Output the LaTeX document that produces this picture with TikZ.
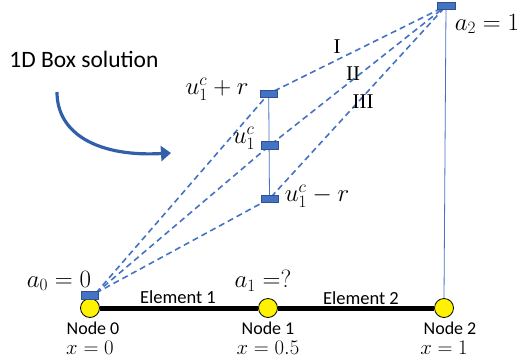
\documentclass[tikz,border=0pt]{standalone}
\usepackage{fontspec}
\setmainfont{Carlito}
\newfontfamily\serifroman{Liberation Serif}
\usetikzlibrary{arrows.meta}
\definecolor{offblue}{HTML}{4472C4}
\definecolor{darkblue}{HTML}{2F528F}
\definecolor{arrowblue}{HTML}{3160AA}
\begin{document}
\begin{tikzpicture}[x=1pt,y=-1pt,
  valbox/.style={draw=darkblue,fill=offblue,line width=0.6pt,minimum width=17pt,minimum height=7.5pt,inner sep=0pt},
  fenode/.style={circle,draw=black,fill=yellow,line width=0.8pt,minimum size=19pt,inner sep=0pt},
  dashline/.style={offblue,line width=1.6pt,dash pattern=on 6pt off 4pt},
  thinline/.style={offblue,line width=0.8pt},
  biglabel/.style={font=\fontsize{23}{27}\selectfont,inner sep=0pt},
  smalllabel/.style={font=\fontsize{18}{21}\selectfont,inner sep=0pt},
  xlabel/.style={font=\fontsize{21}{24}\selectfont,inner sep=0pt},
  romlabel/.style={font=\serifroman\fontsize{21}{24}\selectfont,inner sep=0pt}]
\useasboundingbox (0,0) rectangle (521,362);
% nodes
\node[fenode] (n0) at (90,308) {};
\node[fenode] (n1) at (268,308) {};
\node[fenode] (n2) at (444,308) {};
% element line
\draw[line width=5pt,black] (n0) -- (n1);
\draw[line width=5pt,black] (n1) -- (n2);
% coordinates for boxes
\coordinate (b0) at (90,295.5);
\coordinate (bp) at (268.7,93.7);
\coordinate (bc) at (270,145.2);
\coordinate (bm) at (269.5,198.8);
\coordinate (bt) at (446,6);
% thin vertical lines
\draw[thinline] (bt) -- (n2.north);
\draw[thinline] (bp) -- (bm);
% dashed lines
\draw[dashline] (96,293) -- (bp) -- (bt);
\draw[dashline] (96,293) -- (bc) -- (bt);
\draw[dashline] (96,293) -- (bm) -- (bt);
% boxes
\node[valbox] (r0) at (b0) {};
\node[valbox] (rp) at (bp) {};
\node[valbox] (rc) at (bc) {};
\node[valbox] (rm) at (bm) {};
\node[valbox,minimum width=18pt] (rt) at (bt) {};
% labels
\node[biglabel] (la2) at (487,24) {$a_2=1$};
\node[biglabel] (lup) at (217,89) {$u_1^c+r$};
\node[biglabel] (luc) at (244,138) {$u_1^c$};
\node[biglabel] (lum) at (317,196) {$u_1^c-r$};
\node[biglabel] (la0) at (59,281) {$a_0=0$};
\node[biglabel] (la1) at (263,281) {$a_1=?$};
\node[romlabel] (lI) at (337,47) {I};
\node[romlabel] (lII) at (353,74) {II};
\node[romlabel] (lIII) at (363,102) {III};
\node[smalllabel,font=\fontsize{18.5}{21}\selectfont] (le1) at (178,297) {Element 1};
\node[smalllabel,font=\fontsize{18.5}{21}\selectfont] (le2) at (361,298) {Element 2};
\node[smalllabel] (ln0) at (93,328) {Node 0};
\node[xlabel] (lx0) at (90,348) {$x=0$};
\node[smalllabel] (ln1) at (268,328) {Node 1};
\node[xlabel] (lx1) at (268,348) {$x=0.5$};
\node[smalllabel] (ln2) at (450,328) {Node 2};
\node[xlabel] (lx2) at (444,348) {$x=1$};
% 1D box solution
\node[font=\fontsize{23.5}{27}\selectfont,inner sep=0pt] (title) at (84,59) {1D Box solution};
\coordinate (as) at (57,92);
\coordinate (ae) at (171,153);
\draw[arrowblue,line width=3.2pt,-{Triangle[length=10pt,width=15pt]}] (as) .. controls (57,135) and (100,157) .. (ae);
\end{tikzpicture}
\end{document}
